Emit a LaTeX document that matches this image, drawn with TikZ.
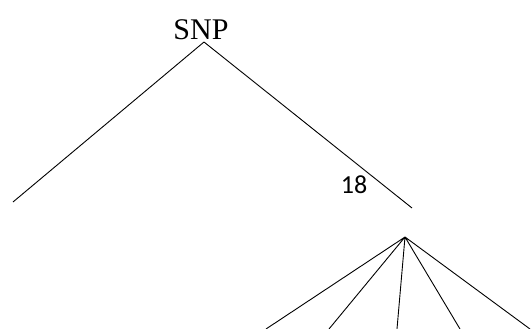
\documentclass[tikz,border=0pt]{standalone}
\usepackage{fontspec}
\setmainfont{Liberation Serif}
\newfontfamily\labelfont{Carlito}
\usetikzlibrary{positioning}

\begin{document}
\begin{tikzpicture}[x=1pt,y=-1pt,line width=0.9pt]
    \tikzstyle{label}=[inner sep=0pt,font=\fontsize{30}{30}\selectfont]
    \tikzstyle{num}=[inner sep=0pt,font=\labelfont\fontsize{26}{26}\selectfont]
    \useasboundingbox (0,0) rectangle (531,329);

    \node[label] (SNP) at (201,30) {SNP};
    \coordinate (T) at (204,42);
    \coordinate (L) at (13,202);
    \coordinate (R) at (412,208);
    \node[num] (N18) at (354,185) {18};

    \coordinate (A) at (405,237);
    \coordinate (B1) at (266,329);
    \coordinate (B2) at (329,329);
    \coordinate (B3) at (397,329);
    \coordinate (B4) at (460,329);
    \coordinate (B5) at (530,329);

    \path[draw]
    (T) -- (L)
    (T) -- (R)
    (A) -- (B1)
    (A) -- (B2)
    (A) -- (B3)
    (A) -- (B4)
    (A) -- (B5)
    ;

  \end{tikzpicture}
\end{document}
